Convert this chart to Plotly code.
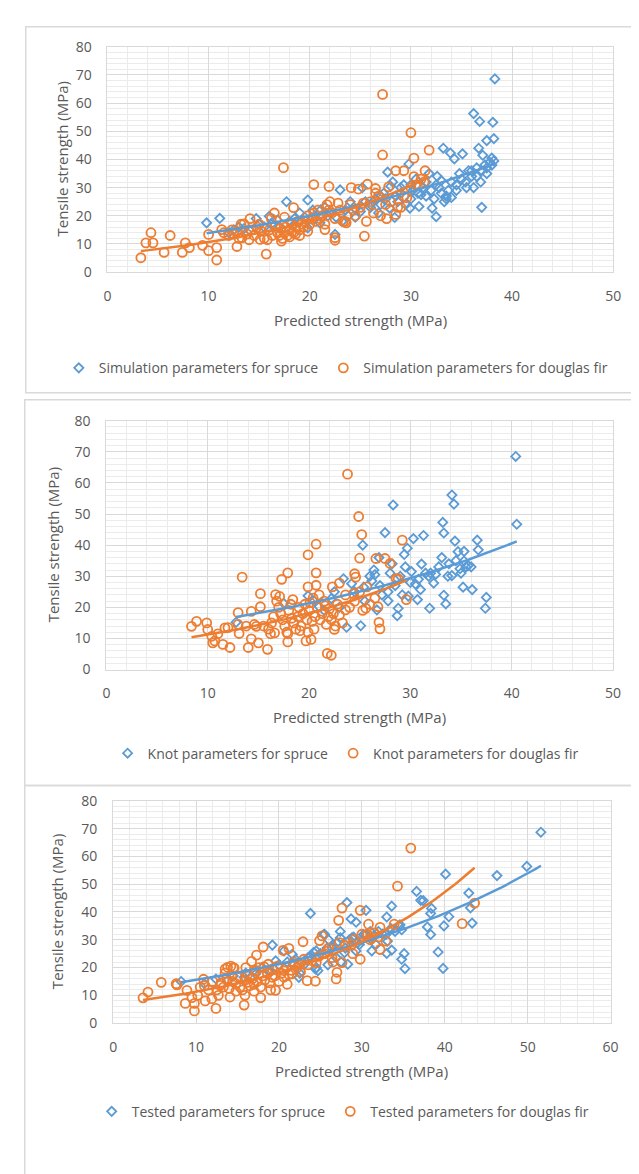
import numpy as np
import plotly.graph_objects as go

# ---------------- DATA ----------------
# Panel 1: simulation parameters
p1_spruce_x = [9.8,11.1,12.5,13.5,14.7,15.5,16.2,16.8,17.7,18.5,19,19.5,19.8,19.8,20.3,21.1,21.8,22.5,22.6,23,23.2,23.8,24.5,25,25.2,25.5,26,26.5,27,27.3,27.7,27.9,28.2,28.4,28.7,29,29.3,29.5,29.8,29.9,30.2,30.5,30.8,31,31.2,31.5,31.8,32.1,32.3,32.5,32.6,32.8,33,33.2,33.3,33.5,33.7,33.9,34,34.3,34.5,34.8,35,35.1,35.4,35.7,36,36.2,36.2,36.5,36.7,36.8,36.9,37,37.1,37.3,37.5,37.5,37.8,38,38.1,38.2,38.3,38.2,26.8,28,30,24,21,18,16,12,13,14,15,17,18.5,20.5,21.5,22,23.5,24.5,26,27,27.5,28.5,29,30,30.7,31.5,32,32.5,33.5,34.5,35.5,36,36.5,37,37.5,38,34,33]
p1_spruce_y = [17.5,19.1,15,15.5,19,16,17,18.5,25,17,21,19.5,25.6,15.7,22,22.1,20,13.4,19.5,29.2,18,20,22.5,21.5,30,25,23,26,24,28,35.5,22.7,32,19.4,25,28,31,24,38.4,22.7,29,33,23.3,27.5,30,32,35,22.7,26,19.7,34,30,28,44,25,27,29,42.3,26.5,40.2,31,35,33,42,32,36,34,56.3,30,37,44,53.5,32,23,41.5,38,46.7,35,39,40.5,53.2,47.4,68.6,39.5,21,30.5,26,25,17.5,18,19.8,14,16,15,17,16,19,20,23,21,22,19.5,24,27,26,27,30,31,28,27,29,31,26,29,30,36,34,36,37,38,32,32.5]
p1_fir_x = [3.3,3.8,4.3,4.5,5.6,6.2,7.4,7.7,8.1,9.4,10,10,10.8,10.8,11.3,12.8,13.3,13.5,14.1,15.7,15.1,16.5,17.4,17.2,18.4,19.8,20.4,21.9,21.5,22.5,22.5,23.3,24.1,24.8,25.4,25.7,25.6,26.3,26.5,27.2,27.2,27.6,27.8,28.5,29.3,30,30.3,30.3,31.4,31.8,28.7,29.6,11.5,12,12.3,12.8,13,13.8,14.2,14.5,14.8,15.2,15.5,15.8,16,16.3,16.6,16.8,17,17.1,17.3,17.5,17.6,17.8,18,18,18.2,18.4,18.6,18.8,19,19.2,19.4,19.6,19.8,20,20.2,20.4,20.6,20.8,21,21.2,21.5,21.7,21.9,22,22.2,22.5,22.8,23,23.5,23.6,24,24.3,24.5,25,25.3,26,26.5,26.8,27,27.5,28,28.5,29,29.3,30,30.5,31,31.3,16.2,15,13.2,12.5,14,19,17.5,18.6]
p1_fir_y = [5.1,10.4,14,10.4,7,13,7,10.4,8.7,9.5,13.4,7.6,4.3,8.7,15.1,9.1,12.2,17.1,19,6.4,11.6,21,37.1,11,22.9,14.5,31.1,30.4,15.1,12.2,11.3,18,30,29.5,12.8,31.2,18,21,29.7,63.1,41.6,19,30.3,36,36,49.5,40.5,33.9,36,43.3,23,26.4,14,13,15,14.5,12,13.5,15,13,16,14.5,12,11.5,15,13,16.5,14,13,15.5,12,14,16,13,15,12.5,17,14,16,18,15,17,16,18,20,17,19,21,18,22,19,20,17,24,22,25,21,19,24.5,22,18,17.5,24,22,20,23,24.5,25,28,27,20,24,25,20.5,23,27,30,31,33,32,19,17,17,13.5,11.5,13,19.5,13.5]

# Panel 2: knot parameters
p2_spruce_x = [40.4,40.5,34.1,34.3,28.3,33.2,33.3,27.5,30.3,31.3,34.4,36.6,36.7,25.3,34.7,33.1,31.1,30.1,36.1,37.5,37.4,31.9,33.5,33.3,35.2,28.7,25.1,23.7,23.4,19.9,12.8,28.8,30.7,32.3,31,29.8,27.8,26.7,35.3,35.7,34.1,34.9,29.4,26.9,26.4,25.4,24.2,22.2,21,17.5,26.2,28.2,32.5,35.3,33.7,30.5,20.5,21.5,22.5,23,24.5,25.5,26,27,27.2,28,28.5,29,29.2,29.5,30,30.8,31.5,32,32.8,33.8,34.5,35.5,35,36,31.8,29.7,27.8,26.5]
p2_spruce_y = [68.5,46.7,56.1,53.2,52.9,47.3,43.9,44,42.1,43.1,41.3,41.6,38.5,40,37.9,36,33.9,31.5,25.7,23.2,19.7,19.7,21.1,23.9,26.5,17.3,14.1,13.6,29.2,23.7,15.2,19.7,22.5,27.8,25.7,23.6,22.1,19.2,34.9,33.4,30.2,32.4,37,36,32,26.5,27.6,22.8,20.2,21.3,28.5,34,30.6,38,30,27.5,22,19,25,20,25,22,30,27,24,31,27,30,24,33,28,29,31,31,33,34,35,33,31,33,30,39,25,30.5]
p2_fir_x = [23.8,24.9,25.2,20.7,19.9,25,29.2,26.6,27.5,28,13.4,17.9,17.3,20.7,24.5,24.6,23,22.3,19.9,20.7,15.2,16.7,25.7,28.8,13,14.3,15.2,8.4,8.9,9.9,10,10.4,10.7,10.5,11.5,12.2,11.7,13.1,14.3,14,15,15.9,16.6,17.9,19.7,20.2,19.9,21.8,22.2,22.5,23.6,25.6,26.8,26.9,27,24.4,28.6,29.6,14.8,16,16.3,16.8,17,17.2,17.4,17.6,17.8,17.9,18,18.2,18.4,18.5,18.7,18.9,19,19.2,19.4,19.6,19.8,20,20.1,20.3,20.5,20.6,20.8,21,21.1,21.3,21.5,21.7,21.9,22,22.2,22.4,22.6,22.8,23,23.3,23.6,24,24.5,25,25.3,26,26.5,18.3,19.1,20.4,21.6,17.1,16.5,15.5,14.6,13.8,13,12,11,16.2]
p2_fir_y = [62.8,49.2,43.4,40.3,36.9,35.8,41.6,35.7,35.7,34.1,29.7,31.1,29,31.1,30.8,29.7,27.8,26.6,26.6,27.1,24.4,24.1,26.6,29.2,18.3,18.7,20.2,13.9,15.5,15,12.9,10.7,9.2,8.6,8.1,7.1,13.4,11.6,9.9,7.1,8.6,6.5,11.8,8.9,9.2,9.7,12,5.2,4.6,12.9,19.2,19.7,20.2,15.2,13.1,24.4,29.2,22.5,13.9,13,15,22,20,18,16,14,12,11.5,19,21,22.5,15,13,17,20,14,18,21,16,19,21.5,15.5,13,17,20,24,16,18,22,14.5,17,19.5,16,18,14,21,17.5,15,24,20,22,25,19,21,23,16.5,12.5,23,20.5,23.5,17,14,14.5,14,14.5,13.5,11.5,11.5]

# Panel 3: tested parameters
p3_spruce_x = [51.6,49.9,46.3,40.1,42.9,36.6,37.1,37.4,38.4,38.3,33.6,33,40.5,39.9,43.3,43.1,37.9,38.3,39.2,39.8,35.2,34.8,35.1,33,33.6,23.8,28.2,19.2,22.4,8.2,30.5,28.7,29.3,27.4,25.4,28.3,25.9,24.4,33.1,34.6,34.8,32.9,30.2,29.7,29.3,27.9,26.4,24.5,23.5,21.6,20.6,19.6,18.7,17.2,15.8,13.8,12.4,11,31.2,31.7,31,28.8,26.9,24.7,21.6,27.4,14.5,16,17,18,19,20,21,22,23,23.8,24.2,25,25.8,26.5,27,28,28.5,29,29.5,30,30.5,31,31.5,32,32.5,33.5,34,34.5,25.5,26,24.5,27.5,22.5]
p3_spruce_y = [68.7,56.4,53.1,53.6,46.8,47.4,44.2,44.1,41.3,39.5,42.1,38.2,38.3,35,36,41.5,34.6,31.9,25.6,19.7,19.6,23,25,25.1,26.3,39.5,43.4,28.1,16.5,15,40.6,37.5,36.3,33,31.9,21.2,21,19.5,29.5,35.4,33.6,31.9,31.9,28.3,26,25.4,27.1,26,23.6,21.8,26,22.4,18.9,17.7,16.5,15.3,15.9,14.2,26,28.3,33,30.7,23.6,18.9,24.8,30.7,17,18,19,20,18.5,21,22,23,21,24,25.5,25,27,28,29,27,30,31,29,30,32,30.5,31.5,33,32,34,33,35,32,30,20,22,18]
p3_fir_x = [35.9,34.3,43.6,42.1,27.6,29.8,30.8,27.2,33.9,32.2,22.9,25.2,18.1,20.5,17.3,13.8,14.6,5.8,4.2,3.6,7.6,7.7,8.9,8.7,9.5,9.8,9.8,10.5,10.9,11.1,11.9,12.4,12.7,14.1,15.8,15.9,17.8,19.6,24.4,23.4,26.9,27,28.9,29.8,27.6,26.4,32.2,32.9,31.2,24.9,21.2,16.7,18.2,20.6,19.2,21.6,16.3,14.8,12.9,14.3,17.2,18.7,22.5,24.5,25.9,28.8,30.7,12,12.5,13,13.3,13.7,14,14.4,14.8,15,15.3,15.6,15.9,16.2,16.5,16.8,17,17.2,17.4,17.6,17.8,18,18.3,18.6,18.9,19.2,19.5,19.8,20,20.3,20.6,20.9,21.2,21.5,21.8,22.2,22.6,23,23.5,24,24.8,25.5,26,26.5,27.3,28,29,30,31,31.5,32,11.5,11,10.2,13.5,16,17,19,21,13.5,14.5,14.2]
p3_fir_y = [63,49.3,43.2,35.8,41.4,40.6,35.6,37,35.6,34.5,29.3,31.4,27.4,26.2,24.5,20.1,19.8,14.7,11.2,9.1,14.2,13.8,11.8,7.1,9.2,4.4,7.1,13,15.8,8,8.8,5.3,10,9.4,6.5,10,9.2,11.8,15.1,15.3,15.9,18.3,25,23,21.8,23.6,26.5,29.5,30.7,29.7,26.9,22.2,20.3,18.9,16.5,17.7,14.7,14.2,13.6,17.1,18.9,21.2,21.2,21.8,26,28.3,31.9,15,12,14.5,13,16,12.5,15,11.5,16.5,13,12,15.5,17.5,13.5,16,14,19,15,20,13,17,15.5,18,14.5,19.5,17,20.5,15,18,16.5,20,17.5,19,22,20,18.5,23,21,22.5,24,25,27,22,29,28,30,32,30,32.5,31,12,13.5,10,18,20,11.5,12,14,19.5,20,20.5]

panels = [
    dict(sx=p1_spruce_x, sy=p1_spruce_y, fx=p1_fir_x, fy=p1_fir_y,
         names=["Simulation parameters for spruce", "Simulation parameters for douglas fir"], xmax=50),
    dict(sx=p2_spruce_x, sy=p2_spruce_y, fx=p2_fir_x, fy=p2_fir_y,
         names=["Knot parameters for spruce", "Knot parameters for douglas fir"], xmax=50),
    dict(sx=p3_spruce_x, sy=p3_spruce_y, fx=p3_fir_x, fy=p3_fir_y,
         names=["Tested parameters for spruce", "Tested parameters for douglas fir"], xmax=60),
]

# ---------------- LAYOUT GEOMETRY (pixels) ----------------
W, H = 639, 1174
BLUE = "#5B9BD5"
ORANGE = "#ED7D31"
TXT = "#595959"
FONT = "Open Sans"

# plot areas: (left, right, top, bottom)
areas = [(97.3, 612.7, 29.3, 258.3), (96.2, 612.5, 409.3, 662.3), (103.1, 610.0, 795.7, 1021.7)]
xtitle_y = [306.7, 710.7, 1070.0]
ytitle_x = [51.0, 42.0, 46.0]
legend_y = [356.0, 747.7, 1111.7]
legend_x = [330.0, 340.0, 337.0]
boxes = [(14, 9, 381), (13, 388, 780), (13, 780, 1185)]


def px(v):
    return v / W


def py(v):
    return 1 - v / H


def exp_fit(x, y):
    x = np.asarray(x, float)
    y = np.asarray(y, float)
    b, lna = np.polyfit(x, np.log(y), 1)
    xs = np.linspace(x.min(), x.max(), 120)
    return xs, np.exp(lna) * np.exp(b * xs)


fig = go.Figure()
layout = dict(width=W, height=H, margin=dict(l=0, r=0, t=0, b=0),
              paper_bgcolor="white", plot_bgcolor="white",
              font=dict(family=FONT, color=TXT, size=14),
              shapes=[], annotations=[])

for i, p in enumerate(panels):
    k = "" if i == 0 else str(i + 1)
    xa, ya = "x" + k, "y" + k
    lg = "legend" + k
    l, r, t, b = areas[i]
    fig.add_trace(go.Scatter(x=p["sx"], y=p["sy"], mode="markers", name=p["names"][0],
                             xaxis=xa, yaxis=ya, legend=lg, cliponaxis=False,
                             marker=dict(symbol="diamond-open", size=7, color=BLUE,
                                         line=dict(width=1.8, color=BLUE))))
    fig.add_trace(go.Scatter(x=p["fx"], y=p["fy"], mode="markers", name=p["names"][1],
                             xaxis=xa, yaxis=ya, legend=lg, cliponaxis=False,
                             marker=dict(symbol="circle-open", size=9, color=ORANGE,
                                         line=dict(width=1.8, color=ORANGE))))
    tx, ty = exp_fit(p["sx"], p["sy"])
    fig.add_trace(go.Scatter(x=tx, y=ty, mode="lines", showlegend=False, xaxis=xa, yaxis=ya,
                             line=dict(color=BLUE, width=2.5), hoverinfo="skip"))
    tx, ty = exp_fit(p["fx"], p["fy"])
    fig.add_trace(go.Scatter(x=tx, y=ty, mode="lines", showlegend=False, xaxis=xa, yaxis=ya,
                             line=dict(color=ORANGE, width=2.5), hoverinfo="skip"))

    common = dict(showline=True, linecolor="#d9d9d9", linewidth=1, mirror=True,
                  showgrid=True, gridcolor="#d9d9d9", gridwidth=1, zeroline=False,
                  ticks="outside", tickcolor="rgba(0,0,0,0)",
                  tickfont=dict(family=FONT, size=14, color=TXT),
                  minor=dict(dtick=2, showgrid=True, gridcolor="#ebebeb", gridwidth=1, ticks=""),
                  fixedrange=True)
    layout["xaxis" + k] = dict(common, domain=[px(l), px(r)], range=[0, p["xmax"]], dtick=10,
                               anchor=ya, ticklen=11)
    layout["yaxis" + k] = dict(common, domain=[py(b), py(t)], range=[0, 80], dtick=10,
                               anchor=xa, ticklen=12)
    layout[lg] = dict(orientation="h", x=px(legend_x[i]), xanchor="center", y=py(legend_y[i]),
                      yanchor="middle", font=dict(family=FONT, size=14, color=TXT),
                      bgcolor="rgba(0,0,0,0)", itemwidth=30, tracegroupgap=0)
    layout["annotations"] += [
        dict(text="Predicted strength (MPa)", xref="paper", yref="paper",
             x=px((l + r) / 2), y=py(xtitle_y[i]), xanchor="center", yanchor="middle",
             showarrow=False, font=dict(family=FONT, size=15, color=TXT)),
        dict(text="Tensile strength (MPa)", xref="paper", yref="paper", textangle=-90,
             x=px(ytitle_x[i]), y=py((t + b) / 2), xanchor="center", yanchor="middle",
             showarrow=False, font=dict(family=FONT, size=15, color=TXT)),
    ]
    bx, btop, bbot = boxes[i]
    layout["shapes"].append(dict(type="rect", xref="paper", yref="paper",
                                 x0=px(bx), x1=1.05, y0=py(bbot), y1=py(btop),
                                 line=dict(color="#d9d9d9", width=1.5), layer="below"))

fig.update_layout(**layout)
fig.write_html("out.html")
